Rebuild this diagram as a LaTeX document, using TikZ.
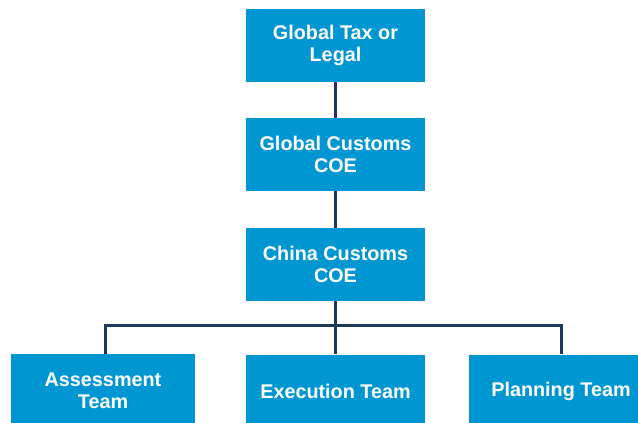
\documentclass[tikz,border=0pt]{standalone}
\usepackage{fontspec}
\setmainfont{Liberation Sans}
\usepackage{tikz}
\usetikzlibrary{positioning}

\definecolor{boxblue}{RGB}{0,150,210}
\definecolor{linknavy}{RGB}{28,56,90}

\tikzset{
	unit/.style={draw=none, fill=boxblue, text=white, font=\bfseries\fontsize{9.9}{11}\selectfont,
		align=center, minimum height=36.5pt, inner sep=0pt},
	link/.style={draw=linknavy, line width=1.5pt}
}

\begin{document}
\begin{tikzpicture}[x=0.5pt, y=-0.5pt]
	\useasboundingbox (0,0) rectangle (638,423);
	% chain of command
	\node[unit, minimum width=89.5pt] (tax) at (335.5,45.5) {Global Tax or\\Legal};
	\node[unit, minimum width=89.5pt] (gcoe) at (335.5,154.5) {Global Customs\\COE};
	\node[unit, minimum width=89.5pt] (ccoe) at (335.5,264.5) {China Customs\\COE};
	% teams
	\node[unit, minimum width=92pt] (assess) at (103,390.5) {Assessment\\Team};
	\node[unit, minimum width=89.5pt] (exec) at (335.5,391) {Execution Team};
	\node[unit, minimum width=92pt] (plan) at (561,391) {Planning Team};
	\coordinate (hub) at (336,325);

	\path[link]
		(tax) edge (gcoe)
		(gcoe) edge (ccoe)
		(ccoe) edge (exec);
	\draw[link] ([xshift=1pt]assess.north) |- (hub) -| (plan.north);
\end{tikzpicture}
\end{document}
